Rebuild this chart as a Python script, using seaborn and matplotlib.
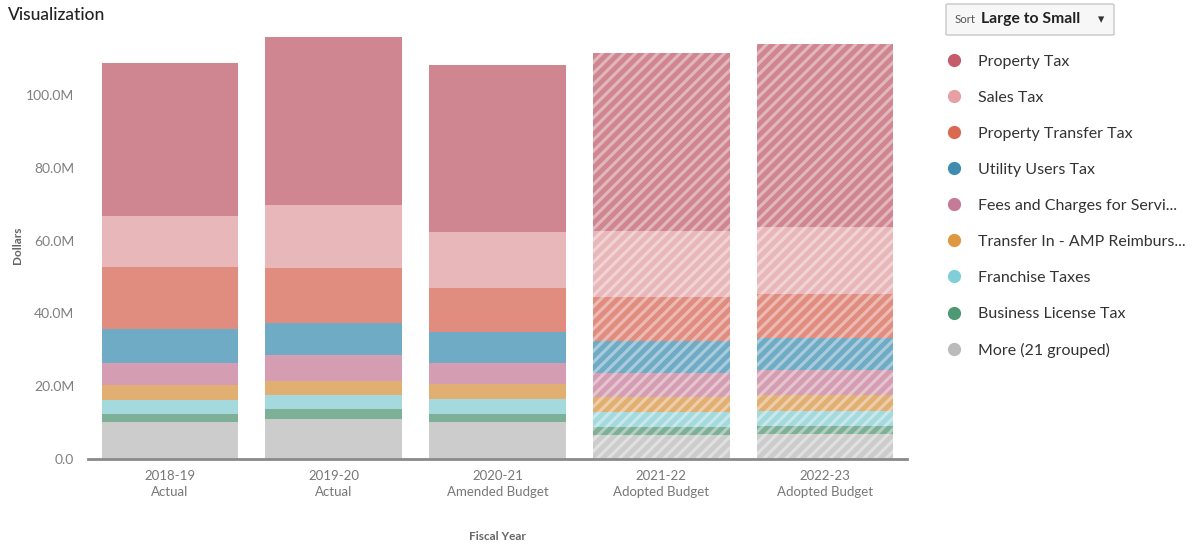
import pandas as pd
import numpy as np
import matplotlib
matplotlib.use('Agg')
import matplotlib.pyplot as plt
import seaborn as sns
from matplotlib.lines import Line2D
from matplotlib.patches import FancyBboxPatch
from matplotlib.ticker import FuncFormatter

# 财年与类别
years = ['2018-19\nActual', '2019-20\nActual', '2020-21\nAmended Budget',
         '2021-22\nAdopted Budget', '2022-23\nAdopted Budget']
is_budget = [False, False, False, True, True]

categories = ['Property Tax', 'Sales Tax', 'Property Transfer Tax', 'Utility Users Tax',
              'Fees and Charges for Servi...', 'Transfer In - AMP Reimburs...',
              'Franchise Taxes', 'Business License Tax', 'More (21 grouped)']

# 数值（百万美元）
property_tax = [42.0, 46.1, 45.8, 48.8, 50.2]
sales_tax = [14.1, 17.3, 15.4, 18.3, 18.6]
property_transfer_tax = [17.0, 15.1, 12.1, 12.1, 12.0]
utility_users_tax = [9.3, 8.8, 8.5, 8.8, 8.8]
fees_charges = [6.1, 7.2, 5.9, 6.5, 6.9]
transfer_in_amp = [4.1, 3.9, 4.1, 4.1, 4.4]
franchise_taxes = [3.8, 3.8, 4.0, 4.1, 3.9]
business_license_tax = [2.2, 2.8, 2.3, 2.3, 2.2]
more_grouped = [10.2, 10.9, 10.1, 6.5, 7.0]

legend_colors = ['#C45C6C', '#E6A0A4', '#D9694F', '#3E8DB1', '#C57A97',
                 '#DD9840', '#80CFD8', '#4E9874', '#BBBBBB']
bar_colors = ['#CF8691', '#E8B7BA', '#E08D7F', '#70ABC6', '#D49DB2',
              '#E2AF72', '#A4D9DE', '#7DB097', '#CCCCCC']

series = [property_tax, sales_tax, property_transfer_tax, utility_users_tax,
          fees_charges, transfer_in_amp, franchise_taxes, business_license_tax,
          more_grouped]

# 堆叠：从下往上累计
stack = np.array(series[::-1]) * 1e6
tops = np.cumsum(stack, axis=0)[::-1]  # tops[0] = 总计 (Property Tax 顶部)

sns.set_style('white')
plt.rcParams['font.family'] = ['Lato', 'DejaVu Sans']
plt.rcParams['hatch.linewidth'] = 2.2

fig = plt.figure(figsize=(12, 5.47), dpi=100)
ax = fig.add_axes([88 / 1200, 1 - 459 / 547, (907 - 88) / 1200, (459 - 29.5) / 547])

for i, cat in enumerate(categories):
    df = pd.DataFrame({'year': years, 'top': tops[i]})
    sns.barplot(data=df, x='year', y='top', order=years, color=bar_colors[i],
                saturation=1, width=0.835, errorbar=None, linewidth=0, ax=ax)
    for patch, budget in zip(ax.containers[-1], is_budget):
        if budget:
            patch.set_hatch('///')
            patch.set_edgecolor((1, 1, 1, 0.4))
            patch.set_linewidth(0)

ax.set_xlim(-0.5, 4.5)
ax.set_ylim(0, 118e6)
ax.set_yticks(np.arange(0, 101e6, 20e6))
ax.yaxis.set_major_formatter(FuncFormatter(lambda v, p: '0.0' if v == 0 else f'{v / 1e6:.1f}M'))
ax.set_xlabel('')
ax.set_ylabel('')

for s in ['top', 'right', 'left']:
    ax.spines[s].set_visible(False)
ax.spines['bottom'].set_color('#8A8A8A')
ax.spines['bottom'].set_linewidth(2)
ax.tick_params(axis='y', length=0, labelsize=10, labelcolor='#808080', pad=10)
ax.tick_params(axis='x', length=0, labelsize=9.5, labelcolor='#777777', pad=8)
for lbl in ax.get_xticklabels():
    lbl.set_linespacing(1.35)

fig.text(8 / 1200, 1 - 15 / 547, 'Visualization', fontsize=12.5, color='#222222',
         va='center', ha='left', fontweight='medium')
fig.text(17 / 1200, 1 - 245 / 547, 'Dollars', rotation=90, fontsize=8.5, color='#666666',
         fontweight='bold', ha='center', va='center')
fig.text(497 / 1200, 1 - 536 / 547, 'Fiscal Year', fontsize=8.5, color='#666666',
         fontweight='bold', ha='center', va='center')

# 排序下拉框
box = FancyBboxPatch((946 / 1200, 1 - 35 / 547), 168 / 1200, 31 / 547,
                     boxstyle='round,pad=0,rounding_size=0.002', transform=fig.transFigure,
                     facecolor='#F7F7F7', edgecolor='#C8C8C8', linewidth=1)
fig.patches.append(box)
fig.text(955 / 1200, 1 - 19.5 / 547, 'Sort', fontsize=8.3, color='#555555', va='center')
fig.text(981 / 1200, 1 - 19.5 / 547, 'Large to Small', fontsize=11.3, color='#222222',
         fontweight='bold', va='center')
fig.text(1101 / 1200, 1 - 19.5 / 547, '\u25BE', fontsize=9, color='#333333',
         va='center', ha='center', family='DejaVu Sans')

handles = [Line2D([], [], marker='o', ls='', markersize=8.5, color=c) for c in legend_colors]
leg = fig.legend(handles, categories, loc='upper left', bbox_to_anchor=(946 / 1200, 1 - 54.5 / 547),
                 frameon=False, fontsize=11.5, labelspacing=1.37, handlelength=1.0,
                 handletextpad=1.0, borderaxespad=0, borderpad=0)
for t in leg.get_texts():
    t.set_color('#333333')

fig.savefig('out.png', dpi=100)
